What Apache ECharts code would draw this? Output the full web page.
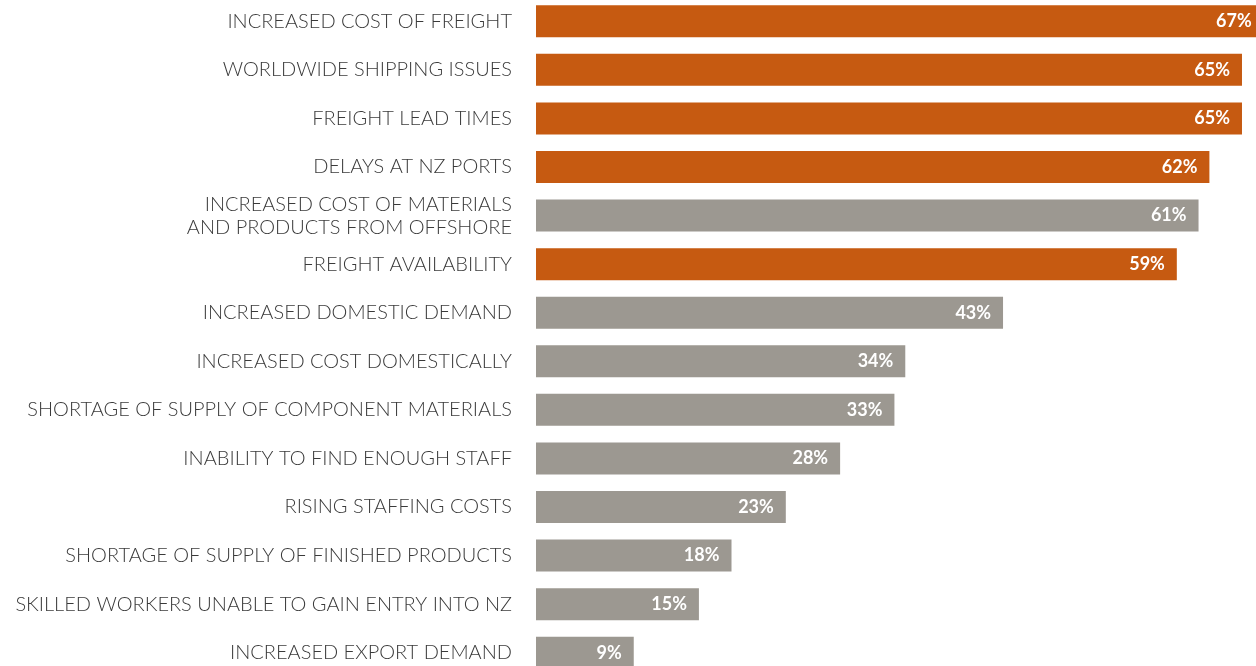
<!DOCTYPE html>
<html>
<head>
<meta charset="utf-8">
<script src="https://cdn.jsdelivr.net/npm/echarts@6/dist/echarts.min.js"></script>
<style>
  html, body { margin: 0; padding: 0; background: #fff; overflow: hidden; }
  /* chart box is a little larger than the window so the first and last bars sit half out of view */
  #chart { position: absolute; left: 0; top: -3px; width: 1280px; height: 680px; }
</style>
</head>
<body>
<div id="chart"></div>
<script>
// survey answers, top to bottom
var categories = [
    'INCREASED COST OF FREIGHT',
    'WORLDWIDE SHIPPING ISSUES',
    'FREIGHT LEAD TIMES',
    'DELAYS AT NZ PORTS',
    'INCREASED COST OF MATERIALS\nAND PRODUCTS FROM OFFSHORE',
    'FREIGHT AVAILABILITY',
    'INCREASED DOMESTIC DEMAND',
    'INCREASED COST DOMESTICALLY',
    'SHORTAGE OF SUPPLY OF COMPONENT MATERIALS',
    'INABILITY TO FIND ENOUGH STAFF',
    'RISING STAFFING COSTS',
    'SHORTAGE OF SUPPLY OF FINISHED PRODUCTS',
    'SKILLED WORKERS UNABLE TO GAIN ENTRY INTO NZ',
    'INCREASED EXPORT DEMAND'
];
var values = [67, 65, 65, 62, 61, 59, 43, 34, 33, 28, 23, 18, 15, 9];
// freight-related answers get the orange bar
var freightItems = [
    'INCREASED COST OF FREIGHT',
    'WORLDWIDE SHIPPING ISSUES',
    'FREIGHT LEAD TIMES',
    'DELAYS AT NZ PORTS',
    'FREIGHT AVAILABILITY'
];

var chartDom = document.getElementById('chart');
var myChart = echarts.init(chartDom, null, { renderer: 'canvas' });

var barData = [];
for (var i = 0; i < values.length; i++) {
    var isFreight = freightItems.indexOf(categories[i]) >= 0;
    barData.push({
        value: values[i],
        itemStyle: { color: isFreight ? '#C65A11' : '#9C9891' }
    });
}

var option = {
    backgroundColor: '#fff',
    animation: false,
    grid: {
        left: 536,
        right: 0,
        top: 0,
        bottom: 0,
        containLabel: false
    },
    xAxis: {
        type: 'value',
        min: 0,
        max: 68.5,
        show: false
    },
    yAxis: {
        type: 'category',
        inverse: true,
        data: categories,
        axisLine: { show: false },
        axisTick: { show: false },
        splitLine: { show: false },
        axisLabel: {
            margin: 24,
            color: '#3a3a3a',
            fontFamily: 'Lato',
            fontWeight: 300,
            fontSize: 20,
            lineHeight: 23,
            align: 'right'
        }
    },
    series: [
        {
            type: 'bar',
            data: barData,
            barWidth: 32,
            label: {
                show: true,
                position: 'insideRight',
                distance: 12,
                color: '#fff',
                fontFamily: 'Lato',
                fontWeight: 'bold',
                fontSize: 18,
                formatter: '{c}%'
            }
        }
    ]
};

myChart.setOption(option);
</script>
</body>
</html>
